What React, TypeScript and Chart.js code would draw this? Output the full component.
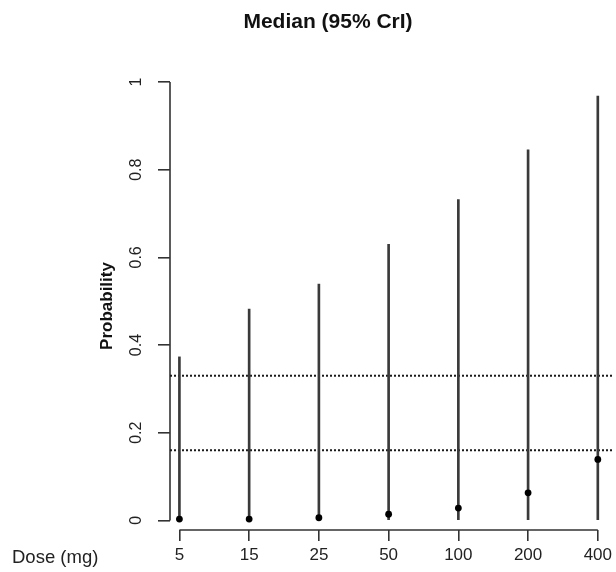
import React, { useEffect, useRef } from 'react';
import { Chart, registerables } from 'chart.js';

Chart.register(...registerables);

const doses = ['5', '15', '25', '50', '100', '200', '400'];
const medians = [0.003, 0.003, 0.006, 0.014, 0.028, 0.063, 0.139];
const lowerCrI = [0, 0, 0, 0, 0, 0, 0];
const upperCrI = [0.373, 0.482, 0.539, 0.63, 0.732, 0.845, 0.968];
const refLines = [0.33, 0.16];
const yTicks = [0, 0.2, 0.4, 0.6, 0.8, 1];
const yTickLabels = ['0', '0.2', '0.4', '0.6', '0.8', '1'];
const chartTitle = 'Median (95% CrI)';
const xAxisLabel = 'Dose (mg)';
const yAxisLabel = 'Probability';

const FONT = '"Liberation Sans", Arial, sans-serif';
const X_MIN = 0.865;
const X_MAX = 7.218;
const Y_MIN = -0.0219;
const Y_MAX = 1;

const rAxesPlugin = {
  id: 'rAxes',
  beforeDatasetsDraw(chart: any) {
    const { ctx, chartArea, scales } = chart;
    const x = scales.x;
    const y = scales.y;
    ctx.save();
    ctx.strokeStyle = '#333';
    ctx.lineWidth = 1.6;
    ctx.beginPath();
    ctx.moveTo(chartArea.left, y.getPixelForValue(yTicks[0]));
    ctx.lineTo(chartArea.left, y.getPixelForValue(yTicks[yTicks.length - 1]));
    ctx.moveTo(x.getPixelForValue(1), chartArea.bottom);
    ctx.lineTo(x.getPixelForValue(doses.length), chartArea.bottom);
    ctx.stroke();
    ctx.restore();
  },
};

export default function App() {
  const ref = useRef<HTMLCanvasElement | null>(null);

  useEffect(() => {
    if (!ref.current) return;
    const barData = doses.map((_, i) => ({ x: i + 1, y: [lowerCrI[i], upperCrI[i]] }));
    const pointData = doses.map((_, i) => ({ x: i + 1, y: medians[i] }));
    const refDatasets = refLines.map((v) => ({
      type: 'line' as const,
      data: [
        { x: X_MIN, y: v },
        { x: X_MAX, y: v },
      ],
      borderColor: '#1a1a1a',
      borderWidth: 2,
      borderDash: [2, 2],
      pointRadius: 0,
      order: 3,
      clip: false as any,
    }));

    const chart = new Chart(ref.current, {
      type: 'scatter',
      data: {
        datasets: [
          {
            type: 'scatter',
            data: pointData,
            pointRadius: 3.4,
            pointBackgroundColor: '#000',
            pointBorderColor: '#000',
            pointBorderWidth: 0,
            order: 0,
            clip: false as any,
          },
          {
            type: 'bar',
            data: barData as any,
            backgroundColor: '#3a3a3a',
            borderWidth: 0,
            barThickness: 2,
            grouped: false,
            order: 1,
            clip: false as any,
          } as any,
          ...refDatasets,
        ] as any,
      },
      options: {
        responsive: false,
        animation: false,
        layout: { padding: { top: 82, left: 0, right: 0, bottom: 0 }, autoPadding: false } as any,
        plugins: {
          legend: { display: false },
          tooltip: { enabled: false },
          title: { display: false },
        },
        scales: {
          x: {
            type: 'linear',
            min: X_MIN,
            max: X_MAX,
            offset: false,
            border: { display: false },
            grid: {
              offset: false,
              drawOnChartArea: false,
              drawTicks: true,
              tickLength: 11,
              color: '#333',
              lineWidth: 1.6,
            },
            ticks: {
              autoSkip: false,
              maxRotation: 0,
              minRotation: 0,
              padding: 4,
              color: '#222',
              font: { family: FONT, size: 17 },
              callback: (v: any) => doses[Math.round(Number(v)) - 1] ?? '',
            },
            afterBuildTicks: (scale: any) => {
              scale.ticks = doses.map((_, i) => ({ value: i + 1 }));
            },
            afterFit: (scale: any) => {
              scale.height = 42;
            },
          },
          y: {
            type: 'linear',
            min: Y_MIN,
            max: Y_MAX,
            border: { display: false },
            grid: {
              offset: false,
              drawOnChartArea: false,
              drawTicks: true,
              tickLength: 12,
              color: '#333',
              lineWidth: 1.6,
            },
            ticks: {
              minRotation: 90,
              maxRotation: 90,
              crossAlign: 'center',
              padding: 10,
              color: '#222',
              font: { family: FONT, size: 16 },
              callback: (v: any) => {
                const idx = yTicks.findIndex((t) => Math.abs(t - Number(v)) < 1e-9);
                return idx >= 0 ? yTickLabels[idx] : '';
              },
            },
            title: {
              display: true,
              text: yAxisLabel,
              color: '#111',
              font: { family: FONT, size: 17, weight: 'bold' },
              padding: { top: 97, bottom: 0 },
            },
            afterBuildTicks: (scale: any) => {
              scale.ticks = yTicks.map((v) => ({ value: v }));
            },
            afterFit: (scale: any) => {
              scale.width = 170;
            },
          },
        },
      },
      plugins: [rAxesPlugin],
    });
    return () => chart.destroy();
  }, []);

  return (
    <div style={{ position: 'absolute', left: 0, top: 0, width: 616, height: 572, background: '#fff' }}>
      <canvas ref={ref} width={616} height={572} style={{ display: 'block' }} />
      <div
        style={{
          position: 'absolute',
          left: 178,
          width: 300,
          top: 10,
          textAlign: 'center',
          fontFamily: FONT,
          fontWeight: 'bold',
          fontSize: 21,
          lineHeight: '21px',
          color: '#111',
          whiteSpace: 'nowrap',
        }}
      >
        {chartTitle}
      </div>
      <div
        style={{
          position: 'absolute',
          left: 12,
          top: 548,
          fontFamily: FONT,
          fontSize: 18.5,
          lineHeight: '18px',
          color: '#222',
          whiteSpace: 'nowrap',
        }}
      >
        {xAxisLabel}
      </div>
    </div>
  );
}
